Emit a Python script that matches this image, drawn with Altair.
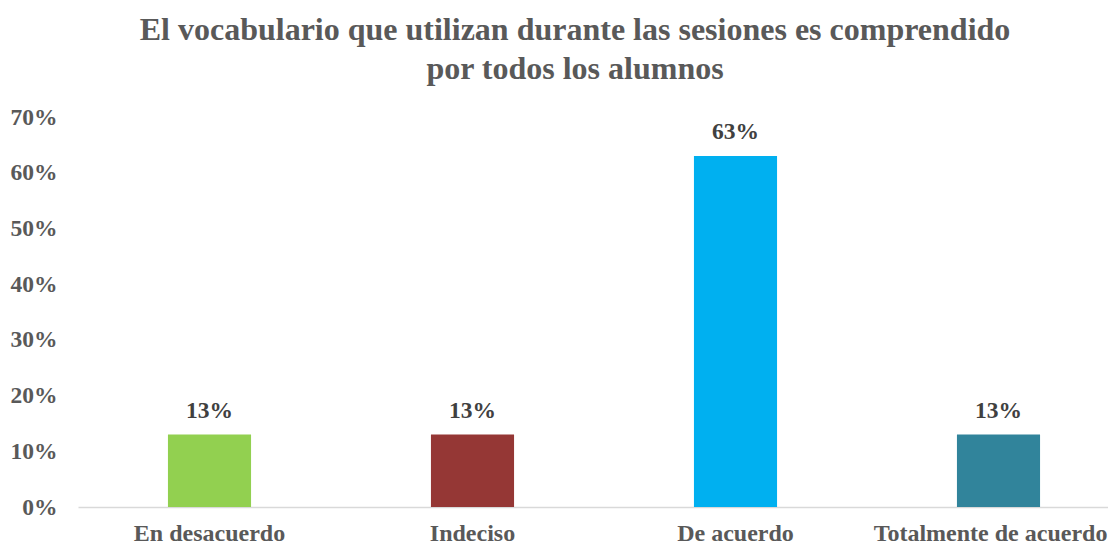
import altair as alt
import pandas as pd

categories = ["En desacuerdo", "Indeciso", "De acuerdo", "Totalmente de acuerdo"]
values = [0.13, 0.13, 0.63, 0.13]
colors = ["#92D050", "#953735", "#00B0F0", "#31849B"]
labels = ["13%", "13%", "63%", "13%"]

df = pd.DataFrame({"cat": categories, "val": values, "lab": labels, "col": colors})

FONT = "Liberation Serif"
GRAY = "#595959"

x = alt.X("cat:N", sort=categories, title=None,
          scale=alt.Scale(range=[0, 1052], paddingInner=0.684, paddingOuter=0.342),
          axis=alt.Axis(labelAngle=0, labelFont=FONT, labelFontSize=24, labelFontWeight="bold",
                        labelColor=GRAY, ticks=False, domainColor="#D9D9D9", domainWidth=1.5,
                        labelPadding=14, labelLimit=0,
                        labelOffset={"condition": {"test": "datum.value == 'Totalmente de acuerdo'",
                                                   "value": -8}, "value": 0}))
y = alt.Y("val:Q", title=None,
          scale=alt.Scale(domain=[0, 0.7]),
          axis=alt.Axis(format=".0%", values=[0, 0.1, 0.2, 0.3, 0.4, 0.5, 0.6, 0.7], grid=False,
                        domain=False, ticks=False, labelFont=FONT, labelFontSize=23.5,
                        labelFontWeight="bold", labelColor=GRAY, labelPadding=21))

base = alt.Chart(df)
bars = base.mark_bar().encode(x=x, y=y, color=alt.Color("col:N", scale=None))
text = base.mark_text(dy=-17, baseline="alphabetic", font=FONT, fontSize=23.5, fontWeight="bold",
                      color="#404040").encode(x=x, y=y, text="lab:N")

chart = (bars + text).properties(
    width=1030, height=390,
    autosize=alt.AutoSizeParams(type="none"),
    padding={"left": 70, "top": 109, "right": 0, "bottom": 38},
    title=alt.TitleParams(
        ["El vocabulario que utilizan durante las sesiones es comprendido", "por todos los alumnos"],
        font=FONT, fontSize=32, fontWeight="bold", color=GRAY, anchor="middle",
        dx=-18, offset=19, lineHeight=39),
).configure_view(stroke=None)

chart.save("out.html", embed_options={"renderer": "svg", "actions": False})
